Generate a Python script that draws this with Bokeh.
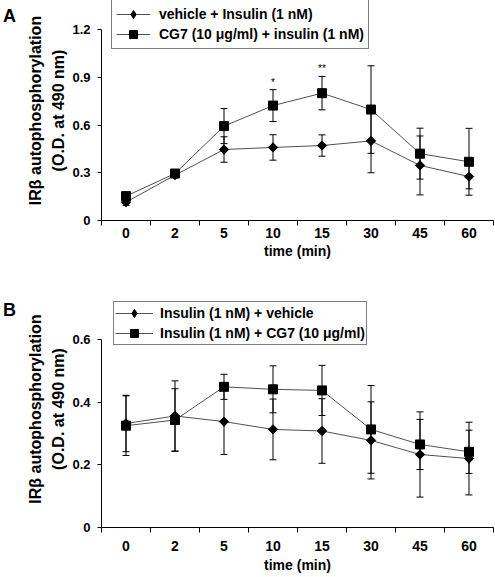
from bokeh.plotting import figure
from bokeh.models import Range1d, FixedTicker, Whisker, TeeHead, ColumnDataSource, Legend, LegendItem, Div
from bokeh.layouts import column, row
from bokeh.embed import file_html
from bokeh.resources import INLINE
from bokeh.core.properties import value

FONT = "Liberation Sans"

times = ["0", "2", "5", "10", "15", "30", "45", "60"]
x_title = "time (min)"
y_title = "IRβ autophosphorylation\n(O.D. at 490 nm)"

# Panel A
a_vehicle_label = "vehicle + Insulin (1 nM)"
a_cg7_label = "CG7 (10 μg/ml) + insulin (1 nM)"
a_vehicle = [0.115, 0.285, 0.446, 0.459, 0.471, 0.500, 0.346, 0.276]
a_vehicle_err = [0.02, 0.015, 0.08, 0.08, 0.067, 0.20, 0.185, 0.077]
a_cg7 = [0.153, 0.295, 0.593, 0.722, 0.800, 0.697, 0.420, 0.369]
a_cg7_err = [0.025, 0.015, 0.11, 0.10, 0.105, 0.275, 0.16, 0.21]
a_yticks = [0, 0.3, 0.6, 0.9, 1.2]
a_sig = ["", "", "", "*", "**", "", "", ""]

# Panel B
b_vehicle_label = "Insulin (1 nM) + vehicle"
b_cg7_label = "Insulin (1 nM) + CG7 (10 μg/ml)"
b_vehicle = [0.332, 0.356, 0.338, 0.313, 0.308, 0.278, 0.233, 0.220]
b_vehicle_err = [0.09, 0.112, 0.105, 0.097, 0.103, 0.123, 0.136, 0.116]
b_cg7 = [0.325, 0.343, 0.449, 0.441, 0.4375, 0.313, 0.265, 0.2415]
b_cg7_err = [0.095, 0.10, 0.04, 0.075, 0.08, 0.14, 0.08, 0.069]
b_yticks = [0, 0.2, 0.4, 0.6]

LETTER_W = 20


def make_panel(veh, veh_err, cg, cg_err, veh_label, cg_label, yticks,
               height, frame_h, tick_top_px, xlab_standoff, xtitle_standoff,
               legend_xy, legend_pad, glyph_w, label_standoff, sig=None):
    n = len(times)
    xs = [i + 0.5 for i in range(n)]
    ytop_val = yticks[-1]
    ymax = ytop_val * frame_h / (frame_h - tick_top_px)
    p = figure(width=495 - LETTER_W, height=height, x_range=Range1d(0, n), y_range=Range1d(0, ymax),
               output_backend="svg", toolbar_location=None,
               min_border_left=101 - LETTER_W, min_border_right=2, min_border_top=0,
               min_border_bottom=height - frame_h)
    p.outline_line_color = None
    p.grid.visible = False
    p.background_fill_color = "white"
    p.border_fill_color = "white"

    # x axis: labels at category centres, tick marks between categories
    xa = p.xaxis[0]
    xa.ticker = FixedTicker(ticks=xs, minor_ticks=list(range(n + 1)))
    xa.major_label_overrides = {x: t for x, t in zip(xs, times)}
    xa.major_tick_line_color = None
    xa.major_tick_in = 0
    xa.major_tick_out = 0
    xa.minor_tick_line_color = "black"
    xa.minor_tick_in = 0
    xa.minor_tick_out = 5
    xa.axis_line_color = "black"
    xa.major_label_standoff = xlab_standoff
    xa.major_label_text_font = FONT
    xa.major_label_text_font_style = "bold"
    xa.major_label_text_font_size = "14px"
    xa.major_label_text_color = "black"
    xa.axis_label = x_title
    xa.axis_label_text_font = FONT
    xa.axis_label_text_font_style = "bold"
    xa.axis_label_text_font_size = "14px"
    xa.axis_label_text_color = "black"
    xa.axis_label_standoff = xtitle_standoff

    ya = p.yaxis[0]
    ya.ticker = FixedTicker(ticks=yticks, minor_ticks=[])
    ya.bounds = (0, ytop_val)
    ya.major_label_overrides = {t: ("0" if t == 0 else f"{t:g}") for t in yticks}
    ya.major_tick_in = 0
    ya.major_tick_out = 4
    ya.major_tick_line_color = "black"
    ya.axis_line_color = "black"
    ya.major_label_standoff = 7
    ya.major_label_text_font = FONT
    ya.major_label_text_font_style = "bold"
    ya.major_label_text_font_size = "13px"
    ya.major_label_text_color = "black"
    ya.axis_label = y_title
    ya.axis_label_text_font = FONT
    ya.axis_label_text_font_style = "bold"
    ya.axis_label_text_font_size = "16px"
    ya.axis_label_text_color = "black"
    ya.axis_label_standoff = 2
    ya.axis_label_text_line_height = 1.4

    src_v = ColumnDataSource(dict(x=xs, y=veh, lo=[m - e for m, e in zip(veh, veh_err)],
                                  hi=[m + e for m, e in zip(veh, veh_err)]))
    src_c = ColumnDataSource(dict(x=xs, y=cg, lo=[m - e for m, e in zip(cg, cg_err)],
                                  hi=[m + e for m, e in zip(cg, cg_err)]))

    for src in (src_v, src_c):
        w = Whisker(source=src, base="x", upper="hi", lower="lo", dimension="height",
                    line_color="black", line_width=1, level="underlay",
                    upper_head=TeeHead(size=7, line_color="black", line_width=1),
                    lower_head=TeeHead(size=7, line_color="black", line_width=1))
        p.add_layout(w)

    lv = p.line("x", "y", source=src_v, line_color="#505050", line_width=1)
    lc = p.line("x", "y", source=src_c, line_color="#505050", line_width=1)
    p.scatter("x", "y", source=src_v, marker="square", size=6.6, angle=0.785398,
              fill_color="black", line_color="black")
    mc = p.scatter("x", "y", source=src_c, marker="square", size=9,
                   fill_color="black", line_color="black")
    # legend sample for the diamond series (legend glyphs ignore the marker angle)
    mv_leg = p.scatter("x", "y", source=src_v, marker="diamond", fill_color="black",
                       line_color="black", visible=False)

    if sig is not None:
        sx, sy, st = [], [], []
        for x, m, e, s in zip(xs, cg, cg_err, sig):
            if s:
                sx.append(x)
                sy.append(m + e + 0.047)
                st.append(s)
        p.text(x=sx, y=sy, text=st, text_font=value(FONT), text_font_size="10px",
               text_align="center", text_baseline="alphabetic", text_color="black")

    legend = Legend(items=[LegendItem(label=veh_label, renderers=[lv, mv_leg]),
                           LegendItem(label=cg_label, renderers=[lc, mc])],
                    location=legend_xy, orientation="vertical",
                    border_line_color="black", border_line_width=1,
                    background_fill_color="white", background_fill_alpha=1,
                    padding=legend_pad, margin=0, spacing=0,
                    glyph_width=glyph_w, glyph_height=20, label_height=20,
                    label_standoff=label_standoff,
                    label_text_font=FONT, label_text_font_style="bold",
                    label_text_font_size="14px", label_text_color="black")
    p.add_layout(legend, "center")
    return p


def letter_div(text, height, pad_top):
    return Div(text=text, width=LETTER_W, height=height, margin=0,
               styles={"font-family": FONT, "font-weight": "bold", "font-size": "18px",
                       "padding-left": "3px", "padding-top": f"{pad_top}px", "color": "black",
                       "line-height": "18px", "box-sizing": "border-box"})


pa = make_panel(a_vehicle, a_vehicle_err, a_cg7, a_cg7_err, a_vehicle_label, a_cg7_label,
                a_yticks, height=290, frame_h=220, tick_top_px=29, xlab_standoff=2,
                xtitle_standoff=2, legend_xy=(10, 171), legend_pad=4, glyph_w=34,
                label_standoff=9, sig=a_sig)
pb = make_panel(b_vehicle, b_vehicle_err, b_cg7, b_cg7_err, b_vehicle_label, b_cg7_label,
                b_yticks, height=287, frame_h=237, tick_top_px=49, xlab_standoff=8,
                xtitle_standoff=3, legend_xy=(12, 182), legend_pad=1, glyph_w=38,
                label_standoff=7)

layout = column(row(letter_div("A", 290, 7), pa, spacing=0),
                row(letter_div("B", 287, 11), pb, spacing=0), spacing=0)
open("out.html", "w").write(file_html(layout, INLINE))
